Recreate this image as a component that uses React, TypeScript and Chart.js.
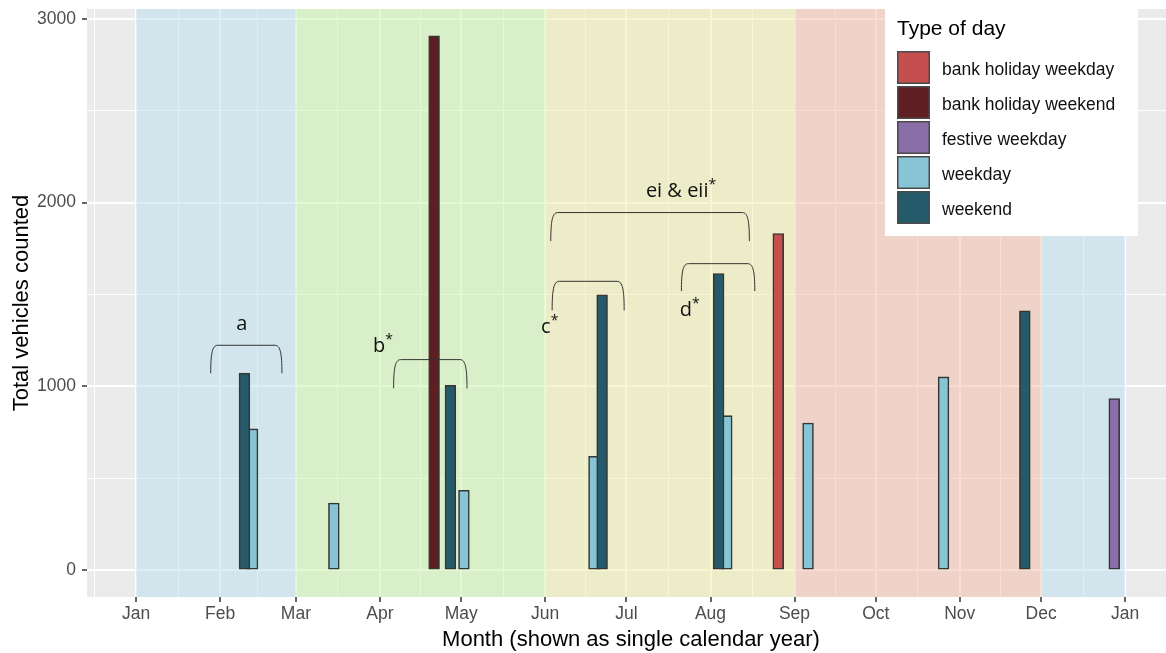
import React, { useEffect, useRef } from 'react';
import { Chart, registerables } from 'chart.js';

Chart.register(...registerables);

// ---- axis / tick definitions ----
const MONTH_LABELS = ['Jan', 'Feb', 'Mar', 'Apr', 'May', 'Jun', 'Jul', 'Aug', 'Sep', 'Oct', 'Nov', 'Dec', 'Jan'];
const MONTH_START_DAYS = [0, 31, 59, 90, 120, 151, 181, 212, 243, 273, 304, 334, 365];
const X_MIN = -18.1;
const X_MAX = 380.1;
const Y_MIN = -145.4;
const Y_MAX = 3053.4;
const Y_MAJOR_TICKS = [0, 1000, 2000, 3000];
const Y_MINOR_TICKS = [500, 1500, 2500];

// ---- series ----
const TYPE_NAMES = ['bank holiday weekday', 'bank holiday weekend', 'festive weekday', 'weekday', 'weekend'];
const TYPE_COLORS = ['#C44F4E', '#5F1F22', '#8A6EA8', '#87C5D6', '#245A6A'];

const BH_WEEKDAY_DAYS = [237];
const BH_WEEKDAY_VALUES = [1832];
const BH_WEEKEND_DAYS = [110];
const BH_WEEKEND_VALUES = [2908];
const FESTIVE_WEEKDAY_DAYS = [361];
const FESTIVE_WEEKDAY_VALUES = [934];
const WEEKDAY_DAYS = [43, 73, 121, 169, 218, 248, 298];
const WEEKDAY_VALUES = [769, 366, 435, 620, 841, 801, 1052];
const WEEKEND_DAYS = [40, 116, 172, 215, 328];
const WEEKEND_VALUES = [1073, 1006, 1498, 1614, 1411];

// ---- seasonal background bands (days of year) ----
const SEASON_STARTS = [0, 59, 151, 243, 334];
const SEASON_ENDS = [59, 151, 243, 334, 365];
const SEASON_COLORS = [
  'rgba(187,223,237,0.5)',
  'rgba(199,243,167,0.5)',
  'rgba(237,237,167,0.5)',
  'rgba(243,187,165,0.5)',
  'rgba(187,223,237,0.5)',
];

// ---- bracket annotations (data coordinates) ----
const BRACKET_LABELS = ['a', 'b', 'c', 'd', 'ei & eii'];
const BRACKET_STAR = [false, true, true, true, true];
const BRACKET_LEFT = [28.3, 95.8, 154.3, 202, 153.8];
const BRACKET_RIGHT = [53.1, 121.4, 179.4, 227.6, 225.6];
const BRACKET_TOP = [1224, 1146, 1572, 1668, 1946];
const BRACKET_BOTTOM = [1072, 990, 1414, 1519, 1791];
const LABEL_DAY = [39.0, 89.7, 151.2, 202.9, 199.7];
const LABEL_VALUE = [1306, 1189, 1289, 1383, 2031];

const AXIS_FONT = '"Liberation Sans", Arial, sans-serif';
const NOTE_FONT = '"Open Sans", "Liberation Sans", sans-serif';

function pts(days: number[], values: number[]) {
  return days.map((d, i) => ({ x: d, y: values[i] }));
}

const xTickValues = (() => {
  const out: number[] = [];
  const all = [-31, ...MONTH_START_DAYS, 396];
  for (let i = 0; i < all.length - 1; i++) {
    out.push(all[i]);
    out.push((all[i] + all[i + 1]) / 2);
  }
  out.push(all[all.length - 1]);
  return out.filter((v) => v >= X_MIN && v <= X_MAX);
})();

const yTickValues = [...Y_MAJOR_TICKS, ...Y_MINOR_TICKS].sort((a, b) => a - b);

export default function App() {
  const canvasRef = useRef<HTMLCanvasElement | null>(null);

  useEffect(() => {
    if (!canvasRef.current) return;

    const panelPlugin = {
      id: 'panel',
      beforeDraw(chart: any) {
        const { ctx, chartArea } = chart;
        ctx.save();
        ctx.fillStyle = '#EBEBEB';
        ctx.fillRect(chartArea.left, chartArea.top, chartArea.right - chartArea.left, chartArea.bottom - chartArea.top);
        ctx.restore();
      },
      beforeDatasetsDraw(chart: any) {
        const { ctx, chartArea, scales } = chart;
        const xs = scales.x;
        ctx.save();
        for (let i = 0; i < SEASON_STARTS.length; i++) {
          const x0 = xs.getPixelForValue(SEASON_STARTS[i]);
          const x1 = xs.getPixelForValue(SEASON_ENDS[i]);
          ctx.fillStyle = SEASON_COLORS[i];
          ctx.fillRect(x0, chartArea.top, x1 - x0, chartArea.bottom - chartArea.top);
        }
        ctx.restore();
      },
      afterDatasetsDraw(chart: any) {
        const { ctx, scales } = chart;
        const xs = scales.x;
        const ys = scales.y;
        ctx.save();
        ctx.strokeStyle = '#333333';
        ctx.lineWidth = 1;
        for (let i = 0; i < BRACKET_LABELS.length; i++) {
          const x0 = xs.getPixelForValue(BRACKET_LEFT[i]);
          const x1 = xs.getPixelForValue(BRACKET_RIGHT[i]);
          const yt = ys.getPixelForValue(BRACKET_TOP[i]);
          const yb = ys.getPixelForValue(BRACKET_BOTTOM[i]);
          const h = yb - yt;
          ctx.beginPath();
          ctx.moveTo(x0 - 2, yb);
          ctx.bezierCurveTo(x0 - 2, yt + h * 0.3, x0 - 0.5, yt, x0 + 5, yt);
          ctx.lineTo(x1 - 5, yt);
          ctx.bezierCurveTo(x1 + 0.5, yt, x1 + 2, yt + h * 0.3, x1 + 2, yb);
          ctx.stroke();

          const lx = xs.getPixelForValue(LABEL_DAY[i]);
          const ly = ys.getPixelForValue(LABEL_VALUE[i]);
          ctx.fillStyle = '#111111';
          ctx.font = `20px ${NOTE_FONT}`;
          ctx.textAlign = 'center';
          ctx.textBaseline = 'alphabetic';
          ctx.fillText(BRACKET_LABELS[i], lx, ly);
          if (BRACKET_STAR[i]) {
            const w = ctx.measureText(BRACKET_LABELS[i]).width;
            ctx.font = `14px ${NOTE_FONT}`;
            ctx.fillText('*', lx + w / 2 + 4, ly - 8);
          }
        }
        ctx.restore();
      },
      afterDraw(chart: any) {
        const { ctx, chartArea } = chart;
        ctx.save();
        // axis titles
        ctx.fillStyle = '#000000';
        ctx.font = `22px ${AXIS_FONT}`;
        ctx.textAlign = 'center';
        ctx.textBaseline = 'alphabetic';
        ctx.fillText('Month (shown as single calendar year)', 631, 646);
        ctx.save();
        ctx.translate(28, (chartArea.top + chartArea.bottom) / 2);
        ctx.rotate(-Math.PI / 2);
        ctx.fillText('Total vehicles counted', 0, 0);
        ctx.restore();

        // legend
        const lx = 885;
        const ly = 9;
        ctx.fillStyle = '#FFFFFF';
        ctx.fillRect(lx, ly, 253, 227);
        ctx.fillStyle = '#000000';
        ctx.textAlign = 'left';
        ctx.font = `21px ${AXIS_FONT}`;
        ctx.fillText('Type of day', lx + 12, ly + 26);
        for (let i = 0; i < TYPE_NAMES.length; i++) {
          const ky = ly + 42 + i * 35;
          ctx.fillStyle = TYPE_COLORS[i];
          ctx.fillRect(lx + 12, ky, 33, 33);
          ctx.strokeStyle = '#4A4A4A';
          ctx.lineWidth = 1.5;
          ctx.strokeRect(lx + 12.75, ky + 0.75, 31.5, 31.5);
          ctx.fillStyle = '#111111';
          ctx.font = `17.5px ${AXIS_FONT}`;
          ctx.fillText(TYPE_NAMES[i], lx + 57, ky + 23.5);
        }
        ctx.restore();
      },
    };

    const series = [
      { days: BH_WEEKDAY_DAYS, values: BH_WEEKDAY_VALUES, order: 2 },
      { days: BH_WEEKEND_DAYS, values: BH_WEEKEND_VALUES, order: 2 },
      { days: FESTIVE_WEEKDAY_DAYS, values: FESTIVE_WEEKDAY_VALUES, order: 2 },
      { days: WEEKDAY_DAYS, values: WEEKDAY_VALUES, order: 3 },
      { days: WEEKEND_DAYS, values: WEEKEND_VALUES, order: 1 },
    ];

    const chart = new Chart(canvasRef.current, {
      type: 'bar',
      data: {
        datasets: series.map((s, i) => ({
          label: TYPE_NAMES[i],
          data: pts(s.days, s.values),
          backgroundColor: TYPE_COLORS[i],
          borderColor: '#363636',
          borderWidth: 1.6,
          borderSkipped: false,
          barThickness: 10.8,
          grouped: false,
          order: s.order,
        })),
      },
      options: {
        responsive: false,
        animation: false,
        layout: { padding: { left: 0, right: 0, top: 9, bottom: 0 } },
        plugins: {
          legend: { display: false },
          tooltip: { enabled: false },
        },
        scales: {
          x: {
            type: 'linear',
            min: X_MIN,
            max: X_MAX,
            offset: false,
            afterBuildTicks: (axis: any) => {
              axis.ticks = xTickValues.map((v) => ({ value: v }));
            },
            afterFit: (axis: any) => {
              axis.height = 56;
              axis.paddingLeft = 0;
              axis.paddingRight = 0;
            },
            border: { display: false },
            grid: {
              offset: false,
              color: '#FFFFFF',
              lineWidth: (c: any) => (MONTH_START_DAYS.includes(c.tick?.value) ? 2 : 1),
              drawTicks: true,
              tickLength: 5,
              tickWidth: 1.5,
              tickColor: (c: any) => (MONTH_START_DAYS.includes(c.tick?.value) ? '#333333' : 'rgba(0,0,0,0)'),
            },
            ticks: {
              autoSkip: false,
              maxRotation: 0,
              minRotation: 0,
              padding: 2,
              color: '#4D4D4D',
              font: { family: AXIS_FONT, size: 17.5 },
              callback: (value: any) => {
                const i = MONTH_START_DAYS.indexOf(Number(value));
                return i >= 0 ? MONTH_LABELS[i] : '';
              },
            },
          },
          y: {
            type: 'linear',
            min: Y_MIN,
            max: Y_MAX,
            afterBuildTicks: (axis: any) => {
              axis.ticks = yTickValues.map((v) => ({ value: v }));
            },
            afterFit: (axis: any) => {
              axis.width = 87;
              axis.paddingTop = 0;
              axis.paddingBottom = 0;
            },
            border: { display: false },
            grid: {
              color: '#FFFFFF',
              lineWidth: (c: any) => (Y_MAJOR_TICKS.includes(c.tick?.value) ? 2 : 1),
              drawTicks: true,
              tickLength: 5,
              tickWidth: 1.5,
              tickColor: (c: any) => (Y_MAJOR_TICKS.includes(c.tick?.value) ? '#333333' : 'rgba(0,0,0,0)'),
            },
            ticks: {
              autoSkip: false,
              padding: 6,
              color: '#4D4D4D',
              font: { family: AXIS_FONT, size: 17.5 },
              callback: (value: any) => (Y_MAJOR_TICKS.includes(Number(value)) ? String(value) : ''),
            },
          },
        },
      },
      plugins: [panelPlugin],
    } as any);

    return () => {
      chart.destroy();
    };
  }, []);

  return (
    <div style={{ position: 'fixed', left: 0, top: 0, width: 1166, height: 653, background: '#FFFFFF' }}>
      <canvas ref={canvasRef} width={1166} height={653} style={{ display: 'block' }} />
    </div>
  );
}
